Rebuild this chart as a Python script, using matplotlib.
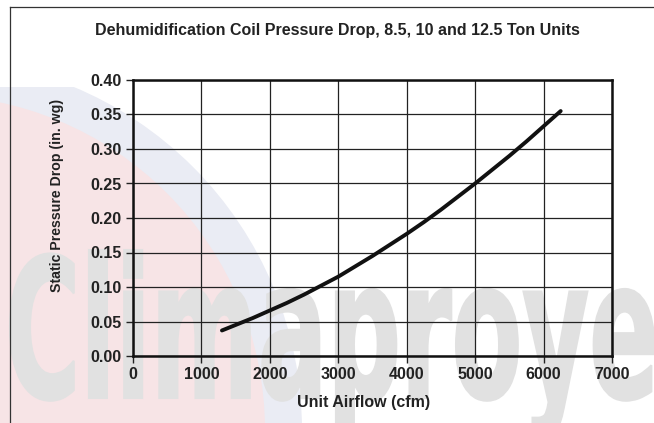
import matplotlib
matplotlib.use('Agg')
import matplotlib.pyplot as plt
from matplotlib.patches import Circle, PathPatch
from matplotlib.textpath import TextPath
from matplotlib.font_manager import FontProperties
from matplotlib.transforms import Affine2D, IdentityTransform, Bbox
from matplotlib.lines import Line2D

# coil pressure drop curve (cfm -> in. wg)
airflow = [1300, 1500, 1750, 2000, 2250, 2500, 2750, 3000, 3250, 3500, 3750,
           4000, 4250, 4500, 4750, 5000, 5250, 5500, 5750, 6000, 6250]
pressure_drop = [0.037, 0.045, 0.055, 0.066, 0.077, 0.089, 0.102, 0.115, 0.130, 0.145, 0.161,
                 0.177, 0.194, 0.212, 0.231, 0.250, 0.270, 0.290, 0.311, 0.333, 0.355]

x_ticks = [0, 1000, 2000, 3000, 4000, 5000, 6000, 7000]
y_ticks = [0.00, 0.05, 0.10, 0.15, 0.20, 0.25, 0.30, 0.35, 0.40]

title = 'Dehumidification Coil Pressure Drop, 8.5, 10 and 12.5 Ton Units'
xlabel = 'Unit Airflow (cfm)'
ylabel = 'Static Pressure Drop (in. wg)'
mark = 'Climaproyectos'

W, H = 654, 423
plt.rcParams['font.family'] = ['Liberation Sans', 'DejaVu Sans']
fig = plt.figure(figsize=(W / 100, H / 100), dpi=100)
fig.patch.set_facecolor('white')
px = IdentityTransform()

# faint logo behind the chart
clip = Bbox.from_extents(0, 0, W, H - 87)
for r, c in [(372, '#eaecf4'), (335, '#f7e4e6')]:
    circ = Circle((-70, H - 430), r, transform=px, facecolor=c, edgecolor='none', zorder=-3)
    circ.set_clip_box(clip)
    fig.add_artist(circ)

fp = FontProperties(family='DejaVu Sans', weight='bold')
part = TextPath((0, 0), mark[:10], size=100, prop=fp).get_extents()
tall = TextPath((0, 0), 'l', size=100, prop=fp).get_extents()
sx = (W - 10) / part.width
sy = 148 / tall.y1
tp = TextPath((0, 0), mark, size=100, prop=fp)
wm = PathPatch(tp, facecolor='#e1e1e1', edgecolor='#e1e1e1', lw=1.5, zorder=-2,
               transform=Affine2D().scale(sx, sy).translate(10 - part.x0 * sx, H - 398))
fig.add_artist(wm)

# page frame
fig.add_artist(Line2D([10, 10], [0, H - 7], transform=px, color='#333333', lw=0.9))
fig.add_artist(Line2D([10, W], [H - 7, H - 7], transform=px, color='#333333', lw=0.9))

ax = fig.add_axes([133 / W, 1 - 356 / H, (612 - 133) / W, (356 - 80) / H])
ax.set_facecolor('none')
ax.plot(airflow, pressure_drop, color='#111111', lw=2.8, solid_capstyle='round', zorder=3)

ax.set_xlim(0, 7000)
ax.set_ylim(0, 0.40)
ax.set_xticks(x_ticks)
ax.set_yticks(y_ticks)
ax.set_yticklabels(['%.2f' % v for v in y_ticks])
ax.grid(True, color='#222222', lw=0.9)
for s in ax.spines.values():
    s.set_linewidth(1.8)
    s.set_color('#111111')
ax.tick_params(direction='out', length=5, width=1, color='#222222', labelsize=11.5,
               labelcolor='#222222', pad=3)
for t in ax.get_xticklabels() + ax.get_yticklabels():
    t.set_fontweight('bold')

ax.set_xlabel(xlabel, fontsize=11.5, fontweight='bold', color='#222222')
ax.set_ylabel(ylabel, fontsize=10.2, fontweight='bold', color='#222222')
ax.xaxis.set_label_coords(0.482, -0.14)
ax.yaxis.set_label_coords(-0.145, 0.58)

fig.text(337 / W, 1 - 31 / H, title, ha='center', va='center', fontsize=11.5,
         fontweight='bold', color='#222222')

fig.savefig('out.png', dpi=100)
